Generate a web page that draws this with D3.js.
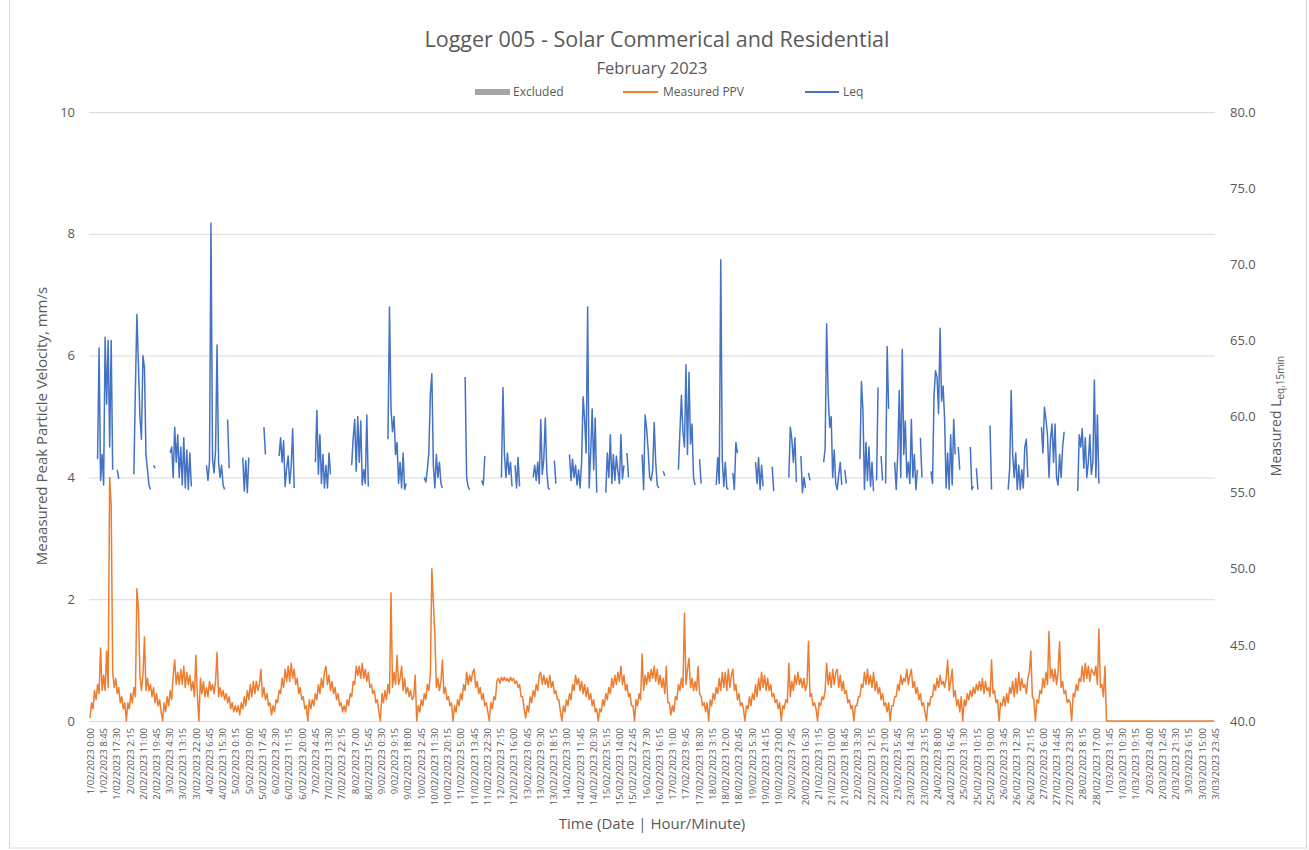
<!DOCTYPE html>
<html>
<head>
<meta charset="utf-8">
<script src="https://cdn.jsdelivr.net/npm/d3@7"></script>
<style>
  body { margin: 0; background: #fff; }
  text { font-family: "Open Sans", "Noto Sans", sans-serif; fill: #595959; }
</style>
</head>
<body>
<svg id="chart" width="1309" height="850"></svg>
<script>
const _ = null;

// time base: 15 minute slots, one label every 35 slots (8h45)
const startTime = Date.UTC(2023, 1, 1, 0, 0)
const slotMinutes = 15
const slotsPerHour = 4
const lastSlot = 2975
const labelEvery = 35

const leftTicks = [0, 2, 4, 6, 8, 10]
const rightTicks = [40, 45, 50, 55, 60, 65, 70, 75, 80]

const legendNames = ['Excluded', 'Measured PPV', 'Leq']

// Measured PPV (mm/s), hourly, one row per day (1/02 .. 3/03)
const ppvHourly = [
  0.05,0.3,0.2,0.5,0.35,0.6,0.45,1.2,0.5,0.75,0.5,1.15,0.55,4.0,3.55,0.8,0.55,0.7,0.45,0.55,0.3,0.4,0.2,0.3,
  0,0.3,0.2,0.45,0.3,0.55,0.4,2.17,1.85,0.75,0.5,0.75,1.38,0.5,0.7,0.5,0.6,0.4,0.55,0.3,0.45,0.25,0.35,0.15,
  0,0.3,0.15,0.4,0.25,0.5,0.35,0.75,1.0,0.6,0.8,0.6,0.85,0.6,0.9,0.55,0.8,0.6,0.75,0.5,0.65,0.4,1.08,0.4,
  0,0.7,0.45,0.65,0.4,0.55,0.4,0.65,0.5,0.6,0.45,0.65,1.13,0.4,0.55,0.4,0.5,0.35,0.45,0.3,0.4,0.2,0.3,0.15,
  0.25,0.15,0.25,0.1,0.3,0.2,0.4,0.25,0.5,0.35,0.6,0.4,0.65,0.45,0.65,0.5,0.6,0.85,0.4,0.55,0.35,0.45,0.25,0.3,
  0.1,0.25,0.15,0.35,0.3,0.5,0.45,0.7,0.55,0.85,0.65,0.9,0.65,0.95,0.7,0.85,0.6,0.7,0.45,0.55,0.35,0.4,0.2,0.25,
  0,0.35,0.2,0.35,0.25,0.45,0.35,0.6,0.45,0.7,0.55,0.8,0.9,0.6,0.75,0.5,0.65,0.45,0.55,0.35,0.45,0.25,0.3,0.15,
  0.25,0.15,0.35,0.25,0.45,0.4,0.65,0.6,0.9,0.75,0.9,0.7,0.95,0.7,0.85,0.65,0.8,0.55,0.6,0.45,0.5,0.3,0.35,0.15,
  0,0.45,0.3,0.5,0.35,0.6,0.45,2.1,0.55,0.8,0.6,1.08,0.6,0.7,0.9,0.5,0.7,0.45,0.55,0.4,0.5,0.35,0.4,0.75,
  0,0.25,0.15,0.35,0.25,0.45,0.35,0.6,0.5,0.75,2.5,1.95,1.4,0.55,0.7,0.5,0.65,1.0,0.45,0.55,0.35,0.4,0.25,0.3,
  0,0.25,0.15,0.35,0.25,0.45,0.35,0.6,0.5,0.8,0.6,0.75,0.65,0.8,0.85,0.55,0.65,0.45,0.55,0.35,0.45,0.25,0.3,0.15,
  0,0.3,0.2,0.4,0.35,0.65,0.7,0.62,0.72,0.66,0.72,0.66,0.7,0.64,0.72,0.66,0.7,0.62,0.66,0.55,0.6,0.4,0.4,0.2,
  0.05,0.25,0.15,0.4,0.3,0.5,0.4,0.6,0.5,0.75,0.8,0.6,0.75,0.6,0.7,0.55,0.75,0.55,0.65,0.45,0.5,0.35,0.35,0.15,
  0,0.25,0.15,0.35,0.25,0.45,0.35,0.6,0.5,0.75,0.6,0.7,0.5,0.65,0.45,0.6,0.4,0.55,0.35,0.45,0.25,0.35,0.15,0.2,
  0,0.2,0.15,0.35,0.25,0.45,0.35,0.55,0.45,0.7,0.55,0.75,0.6,0.8,0.65,0.9,0.6,0.75,0.5,0.6,0.4,0.45,0.25,0.25,
  0,0.35,0.25,0.45,0.35,1.1,0.5,0.75,0.6,0.8,0.65,0.85,0.7,0.9,0.65,0.85,0.6,0.75,0.55,0.7,0.45,0.9,0.3,0.3,
  0.1,0.25,0.15,0.4,0.35,0.6,0.5,0.7,0.55,1.77,0.6,0.85,1.03,0.55,0.7,0.5,0.65,0.5,0.9,0.45,0.4,0.25,0.3,0.15,
  0.3,0,0.35,0.25,0.45,0.35,0.55,0.45,0.7,0.5,0.8,0.55,0.8,0.5,0.85,0.55,0.75,0.85,0.5,0.6,0.35,0.45,0.25,0.3,
  0.2,0,0.25,0.2,0.4,0.25,0.45,0.35,0.6,0.4,0.7,0.5,0.8,0.55,0.75,0.5,0.7,0.5,0.6,0.4,0.45,0.3,0.35,0.2,
  0.3,0,0.25,0.2,0.35,0.3,0.95,0.4,0.65,0.5,0.75,0.6,0.8,0.6,0.7,0.55,0.7,0.5,0.6,1.31,0.4,0.45,0.25,0.3,
  0.2,0,0.3,0.25,0.4,0.35,0.5,0.95,0.6,0.8,0.55,0.85,0.6,0.8,0.85,0.55,0.75,0.5,0.65,0.45,0.5,0.3,0.35,0.2,
  0.25,0,0.25,0.25,0.4,0.4,0.6,0.55,0.8,0.6,0.85,0.6,0.75,0.55,0.8,0.5,0.65,0.45,0.55,0.35,0.45,0.25,0.3,0.15,
  0.3,0,0.25,0.25,0.4,0.4,0.6,0.5,0.75,0.6,0.7,0.65,0.85,0.6,0.75,0.85,0.55,0.65,0.45,0.55,0.35,0.45,0.25,0.3,
  0.15,0,0.3,0.25,0.4,0.4,0.6,0.5,0.7,0.55,0.75,0.6,0.65,0.55,0.7,1.0,0.5,0.65,0.85,0.4,0.5,0.25,0.35,0.15,
  0.4,0,0.35,0.25,0.45,0.35,0.5,0.4,0.55,0.45,0.6,0.5,0.65,0.5,0.7,0.45,0.65,0.5,0.55,0.4,1.0,0.45,0.5,0.3,
  0.35,0,0.3,0.25,0.4,0.25,0.45,0.3,0.55,0.45,0.65,0.4,0.7,0.45,0.8,0.5,0.7,0.55,0.6,0.45,0.7,0.8,1.15,0.4,
  0.35,0,0.35,0.3,0.5,0.45,0.7,0.55,0.8,0.6,1.47,0.7,0.85,0.65,0.85,0.6,0.8,1.3,0.55,0.65,0.45,0.5,0.3,0.35,
  0.3,0,0.45,0.4,0.6,0.5,0.7,0.65,0.9,0.65,0.95,0.7,0.9,0.65,0.85,0.8,0.75,0.9,0.6,1.51,0.55,0.6,0.4,0.9,
  0,0,0,0,0,0,0,0,0,0,0,0,0,0,0,0,0,0,0,0,0,0,0,0,
  0,0,0,0,0,0,0,0,0,0,0,0,0,0,0,0,0,0,0,0,0,0,0,0,
  0,0,0,0,0,0,0,0,0,0,0,0,0,0,0,0,0,0,0,0,0,0,0,0
]

// Leq,15min (dB), hourly, one row per day, _ = no reading
const leqHourly = [
  _,_,_,_,_,57.2,64.5,55.8,57.5,55.5,65.2,60.8,65.0,58.0,65.0,56.5,_,_,56.5,55.9,_,_,_,_,
  _,_,_,_,_,56.2,61.8,66.7,63.5,60.0,58.5,64.0,63.2,57.5,56.5,55.5,55.2,_,56.8,56.6,_,_,_,_,
  _,_,_,_,_,57.6,58.0,56.0,59.3,57.0,58.8,56.0,58.0,55.5,58.6,55.3,57.8,55.2,57.6,55.4,_,_,_,_,
  _,_,_,_,_,56.8,55.8,57.0,72.7,57.2,56.3,57.8,64.7,57.0,56.0,56.8,55.5,55.2,_,59.8,56.6,_,_,_,
  _,_,_,_,_,57.3,55.1,57.1,55.0,57.3,_,_,_,_,_,_,_,_,_,59.3,57.5,_,_,_,
  _,_,_,_,_,57.4,58.6,57.0,58.4,55.4,56.6,57.4,55.6,56.7,59.2,55.3,_,_,_,_,_,_,_,_,
  _,_,_,_,_,57.0,60.4,56.2,58.8,55.6,57.5,55.3,56.8,55.3,57.6,56.2,_,_,_,_,_,_,_,_,
  _,_,_,_,_,56.8,58.6,59.8,56.4,60.0,57.0,59.7,55.5,56.5,55.6,60.1,55.4,_,_,_,_,_,_,_,
  _,_,_,_,_,58.5,67.2,60.5,59.0,60.0,57.5,58.3,55.6,57.0,55.3,57.6,55.2,55.6,_,_,_,_,_,_,
  _,_,_,_,_,56.0,55.7,56.5,57.6,61.4,62.8,56.8,55.3,57.5,56.0,57.0,55.6,55.3,_,_,_,_,_,_,
  _,_,_,_,_,_,_,_,62.6,56.0,55.4,55.2,_,_,_,_,_,_,_,55.8,55.5,57.4,_,_,
  _,_,_,_,_,_,_,_,56.0,61.9,57.5,56.0,57.6,56.2,57.0,55.4,_,56.8,55.3,57.3,55.4,_,_,_,
  _,_,_,_,_,56.0,56.8,55.8,57.0,55.6,59.8,56.2,57.2,59.9,56.4,55.3,55.2,_,_,57.1,55.6,_,_,_,
  _,_,_,_,_,57.5,55.8,57.2,56.0,56.8,55.5,56.5,55.3,57.0,61.3,59.8,57.6,67.2,55.3,57.6,60.5,56.5,59.9,55.0,
  _,_,_,_,_,55.0,57.6,56.0,58.8,55.6,57.5,55.8,57.4,56.4,55.6,58.8,55.9,56.8,_,57.6,56.0,_,_,_,
  _,_,_,_,_,57.5,55.2,60.1,59.2,57.8,56.0,55.8,56.5,59.6,57.0,55.5,55.3,_,_,56.4,56.1,_,_,_,
  _,_,_,_,_,56.5,59.0,61.4,59.0,58.0,63.4,57.5,62.9,58.2,59.5,56.0,55.5,_,_,57.2,55.6,_,_,_,
  _,_,_,_,_,_,55.5,57.3,55.6,70.3,57.2,55.4,57.0,55.3,55.2,_,_,56.3,55.2,58.3,57.6,_,_,_,
  _,_,_,_,_,_,_,_,57.0,55.6,57.3,55.2,56.8,55.4,_,_,_,_,_,56.7,55.1,_,_,_,
  _,_,_,_,_,_,56.0,59.3,58.5,57.0,58.6,55.7,_,_,57.4,55.0,56.0,55.3,_,56.3,55.8,_,_,_,
  _,_,_,_,_,57.0,57.9,66.1,61.5,59.3,60.0,56.0,57.8,55.6,55.2,56.2,57.0,55.5,_,56.5,55.6,_,_,_,
  _,_,_,_,_,57.2,62.3,60.4,55.2,58.3,55.8,58.0,55.4,57.0,55.1,_,55.8,61.9,_,57.4,55.8,_,55.6,64.6,
  60.5,_,_,_,57.0,55.2,57.5,61.7,56.0,64.4,57.5,59.7,56.0,57.0,55.6,59.8,56.0,57.5,55.2,56.5,_,58.6,56.0,_,
  _,_,_,_,56.4,55.6,61.4,63.0,62.6,60.2,65.8,61.0,62.0,59.8,55.3,57.6,55.2,58.8,55.5,59.8,57.5,_,58.0,56.5,
  _,_,_,_,_,_,58.0,55.2,55.4,_,56.6,55.2,_,_,_,_,_,_,_,59.4,55.2,_,_,_,
  _,_,_,_,_,_,_,55.2,56.6,61.7,57.5,56.0,57.6,55.2,56.8,55.2,56.5,55.3,58.0,58.5,56.0,_,_,_,
  _,_,_,_,_,59.3,57.6,60.6,59.8,58.8,56.0,58.5,59.5,57.0,59.5,56.0,55.5,57.5,56.0,58.0,59.0,_,_,_,
  _,_,_,_,_,55.1,58.8,58.0,59.2,56.6,58.6,56.0,57.0,58.8,56.2,57.0,62.4,56.0,60.1,55.6,_,_,_,_
]

const colors = { excluded: '#a5a5a5', ppv: '#ed7d31', leq: '#4472c4' }

const width = 1309, height = 850
const plot = { left: 90, right: 1215, top: 112, bottom: 721 }

const svg = d3.select('#chart')

// chart border
svg.append('rect')
  .attr('x', 9.5).attr('y', -2)
  .attr('width', 1297).attr('height', 850)
  .attr('fill', 'none').attr('stroke', '#d9d9d9')

const x = d3.scaleLinear().domain([0, lastSlot]).range([plot.left, plot.right])
const yL = d3.scaleLinear().domain([0, 10]).range([plot.bottom, plot.top])
const yR = d3.scaleLinear().domain([40, 80]).range([plot.bottom, plot.top])

// gridlines
svg.append('g')
  .attr('transform', `translate(${plot.left - 1},0)`)
  .call(d3.axisLeft(yL).tickValues(leftTicks).tickSize(-(plot.right - plot.left + 1)).tickFormat(''))
  .call(g => g.select('.domain').remove())
  .call(g => g.selectAll('line').attr('stroke', '#d9d9d9'))

// left axis
svg.append('g')
  .attr('transform', `translate(${plot.left - 1},0)`)
  .call(d3.axisLeft(yL).tickValues(leftTicks).tickSize(0).tickPadding(14))
  .call(g => g.select('.domain').remove())
  .call(g => g.selectAll('text').style('font-size', '13px').attr('fill', '#595959'))

// right axis
svg.append('g')
  .attr('transform', `translate(${plot.right},0)`)
  .call(d3.axisRight(yR).tickValues(rightTicks).tickSize(0).tickPadding(15).tickFormat(d3.format('.1f')))
  .call(g => g.select('.domain').remove())
  .call(g => g.selectAll('text').style('font-size', '13px').attr('fill', '#595959'))

// bottom axis, category labels
const fmt = d3.utcFormat('%-d/%m/%Y %-H:%M')
const slotLabel = i => fmt(new Date(startTime + i * slotMinutes * 60000))

svg.append('g')
  .attr('transform', `translate(0,${plot.bottom})`)
  .call(d3.axisBottom(x).tickValues(d3.range(0, lastSlot + 1, labelEvery)).tickSize(0).tickFormat(slotLabel))
  .call(g => g.select('.domain').attr('stroke', '#d9d9d9'))
  .call(g => g.selectAll('text')
    .attr('transform', 'rotate(-90)')
    .attr('text-anchor', 'end')
    .attr('x', -7).attr('y', 0).attr('dy', '0.35em')
    .style('font-size', '9.5px')
    .attr('fill', '#595959'))

// series
const ppvData = ppvHourly.map((v, h) => ({ slot: h * slotsPerHour, v }))
const leqData = leqHourly.map((v, h) => ({ slot: h * slotsPerHour, v }))

svg.append('path')
  .datum(ppvData)
  .attr('fill', 'none')
  .attr('stroke', colors.ppv)
  .attr('stroke-width', 1.5)
  .attr('stroke-linejoin', 'round')
  .attr('d', d3.line().x(d => x(d.slot)).y(d => yL(d.v)))

svg.append('path')
  .datum(leqData)
  .attr('fill', 'none')
  .attr('stroke', colors.leq)
  .attr('stroke-width', 1.5)
  .attr('stroke-linejoin', 'round')
  .attr('d', d3.line().defined(d => d.v != null).x(d => x(d.slot)).y(d => yR(d.v)))

// titles
svg.append('text')
  .attr('x', 657).attr('y', 47)
  .attr('text-anchor', 'middle')
  .style('font-size', '21.5px')
  .text('Logger 005 - Solar Commerical and Residential')

svg.append('text')
  .attr('x', 652).attr('y', 74)
  .attr('text-anchor', 'middle')
  .style('font-size', '16.5px')
  .text('February 2023')

// legend
const legend = svg.append('g').style('font-size', '12px')
legend.append('rect').attr('x', 475).attr('y', 89).attr('width', 35).attr('height', 6).attr('fill', colors.excluded)
legend.append('text').attr('x', 513).attr('y', 96).text(legendNames[0])
legend.append('line').attr('x1', 623).attr('x2', 658).attr('y1', 92).attr('y2', 92)
  .attr('stroke', colors.ppv).attr('stroke-width', 2)
legend.append('text').attr('x', 663).attr('y', 96).text(legendNames[1])
legend.append('line').attr('x1', 805).attr('x2', 839).attr('y1', 92).attr('y2', 92)
  .attr('stroke', colors.leq).attr('stroke-width', 2)
legend.append('text').attr('x', 843).attr('y', 96).text(legendNames[2])

// axis titles
svg.append('text')
  .attr('transform', 'translate(47,426) rotate(-90)')
  .attr('text-anchor', 'middle')
  .style('font-size', '15px')
  .text('Meaasured Peak Particle Velocity, mm/s')

const rTitle = svg.append('text')
  .attr('transform', 'translate(1281,416) rotate(-90)')
  .attr('text-anchor', 'middle')
  .style('font-size', '14px')
rTitle.append('tspan').text('Measured L')
rTitle.append('tspan').attr('dy', 3).style('font-size', '10px').text('eq,15min')

svg.append('text')
  .attr('x', 652).attr('y', 829)
  .attr('text-anchor', 'middle')
  .style('font-size', '15px')
  .text('Time (Date | Hour/Minute)')
</script>
</body>
</html>
